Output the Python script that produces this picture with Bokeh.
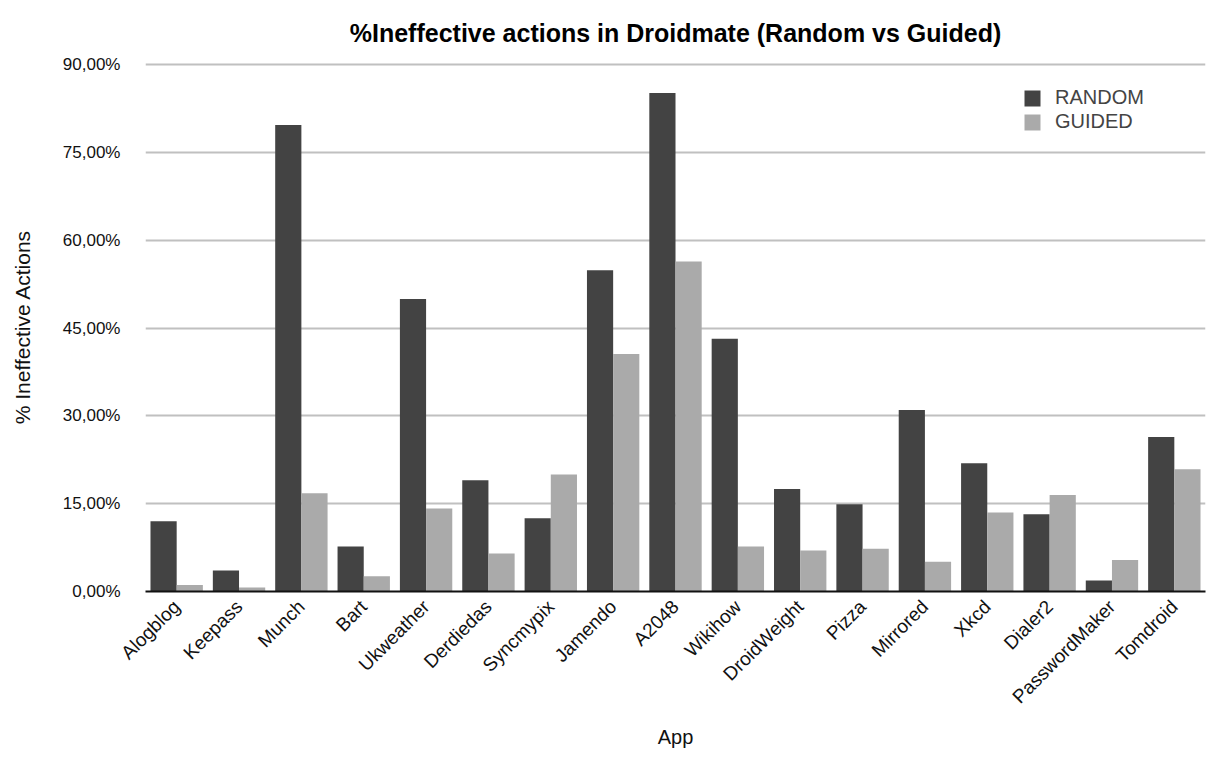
from bokeh.plotting import figure
from bokeh.models import FactorRange, Range1d, ColumnDataSource, FixedTicker, Legend, LegendItem
from bokeh.transform import dodge
from bokeh.embed import file_html
from bokeh.resources import INLINE
import math

apps = ["Alogblog", "Keepass", "Munch", "Bart", "Ukweather", "Derdiedas", "Syncmypix",
        "Jamendo", "A2048", "Wikihow", "DroidWeight", "Pizza", "Mirrored", "Xkcd",
        "Dialer2", "PasswordMaker", "Tomdroid"]
random_vals = [12.0, 3.6, 79.7, 7.7, 50.0, 19.0, 12.5, 54.9, 85.2, 43.2, 17.5, 14.9,
               31.0, 21.9, 13.2, 1.9, 26.4]
guided_vals = [1.1, 0.7, 16.8, 2.6, 14.2, 6.5, 20.0, 40.6, 56.4, 7.7, 7.0, 7.3,
               5.1, 13.5, 16.5, 5.4, 20.9]
y_ticks = [0, 15, 30, 45, 60, 75, 90]
y_tick_labels = ["0,00%", "15,00%", "30,00%", "45,00%", "60,00%", "75,00%", "90,00%"]

FONT = "Liberation Sans"
DARK = "#434343"
LIGHT = "#aaaaaa"

src = ColumnDataSource(dict(app=apps, random=random_vals, guided=guided_vals))

p = figure(width=1214, height=765, x_range=FactorRange(factors=apps, range_padding=0),
           y_range=Range1d(0, 90.4), output_backend="svg", toolbar_location=None,
           min_border_left=145, min_border_right=9, min_border_top=61, min_border_bottom=174)

p.title.text = "%Ineffective actions in Droidmate (Random vs Guided)"
p.title.align = "center"
p.title.text_font = FONT
p.title.text_font_size = "25px"
p.title.text_font_style = "bold"
p.title.text_color = "black"
p.title.standoff = 32

r1 = p.vbar(x=dodge("app", -0.21, range=p.x_range), top="random", width=0.42, source=src,
            fill_color=DARK, line_color=None)
r2 = p.vbar(x=dodge("app", 0.21, range=p.x_range), top="guided", width=0.42, source=src,
            fill_color=LIGHT, line_color=None)

p.outline_line_color = None
p.background_fill_color = "white"
p.border_fill_color = "white"

p.xgrid.grid_line_color = None
p.ygrid.grid_line_color = "#c0c0c0"
p.ygrid.grid_line_width = 2
p.ygrid.ticker = FixedTicker(ticks=y_ticks)

p.yaxis.ticker = FixedTicker(ticks=y_ticks)
p.yaxis.major_label_overrides = {t: l for t, l in zip(y_ticks, y_tick_labels)}
p.yaxis.axis_line_color = None
p.yaxis.major_tick_line_color = None
p.yaxis.minor_tick_line_color = None
p.yaxis.major_tick_out = 0
p.yaxis.major_label_standoff = 25
p.yaxis.major_label_text_font = FONT
p.yaxis.major_label_text_font_size = "17px"
p.yaxis.major_label_text_color = "#111111"
p.yaxis.axis_label = "% Ineffective Actions"
p.yaxis.axis_label_text_font = FONT
p.yaxis.axis_label_text_font_size = "21px"
p.yaxis.axis_label_text_font_style = "normal"
p.yaxis.axis_label_text_color = "#111111"
p.yaxis.axis_label_standoff = 26

p.xaxis.axis_line_color = "#111111"
p.xaxis.axis_line_width = 2
p.xaxis.major_tick_line_color = None
p.xaxis.minor_tick_line_color = None
p.xaxis.major_tick_out = 0
p.xaxis.major_label_orientation = math.pi / 4
p.xaxis.major_label_standoff = 12
p.xaxis.major_label_text_font = FONT
p.xaxis.major_label_text_font_size = "19px"
p.xaxis.major_label_text_color = "#111111"
p.xaxis.axis_label = "App"
p.xaxis.axis_label_text_font = FONT
p.xaxis.axis_label_text_font_size = "20px"
p.xaxis.axis_label_text_font_style = "normal"
p.xaxis.axis_label_text_color = "#111111"
p.xaxis.axis_label_standoff = 8

legend = Legend(items=[LegendItem(label="RANDOM", renderers=[r1]),
                       LegendItem(label="GUIDED", renderers=[r2])],
                location=(877, 458), padding=0, margin=0, spacing=1,
                glyph_width=20, glyph_height=20, label_height=20, label_standoff=13,
                label_text_font=FONT, label_text_font_size="20px",
                border_line_color=None, background_fill_alpha=0)
p.add_layout(legend)

open("out.html", "w").write(file_html(p, INLINE))
